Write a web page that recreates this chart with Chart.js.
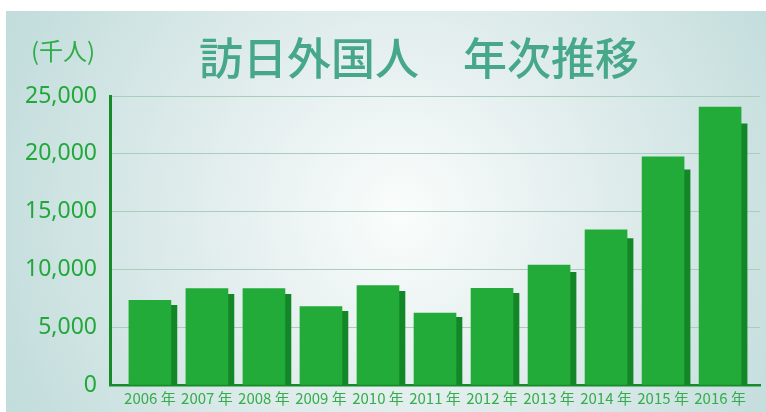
<!DOCTYPE html>
<html lang="ja">
<head>
<meta charset="utf-8">
<script src="https://cdn.jsdelivr.net/npm/chart.js@4/dist/chart.umd.min.js"></script>
<style>
  html, body { margin: 0; padding: 0; background: #ffffff; }
  canvas { display: block; }
</style>
</head>
<body>
<canvas id="c" width="766" height="412"></canvas>
<script>
// ---- data (thousands of visitors) ----
const categories = ['2006 年','2007 年','2008 年','2009 年','2010 年','2011 年','2012 年','2013 年','2014 年','2015 年','2016 年'];
const visitors   = [7334, 8347, 8351, 6790, 8611, 6219, 8358, 10364, 13413, 19737, 24039];
const shadowVals = [6900, 7840, 7840, 6380, 8100, 5860, 7930, 9740, 12670, 18620, 22590];
const yTicks     = [0, 5000, 10000, 15000, 20000, 25000];
const titleText  = '訪日外国人　年次推移';
const unitText   = '(千人)';

const mainData   = visitors.map((v, i) => ({ x: i, y: v }));
const shadowData = shadowVals.map((v, i) => ({ x: i, y: v }));

const bgPlugin = {
  id: 'panel',
  beforeDraw(chart) {
    const ctx = chart.ctx;
    ctx.save();
    ctx.fillStyle = '#ffffff';
    ctx.fillRect(0, 0, chart.width, chart.height);
    const g = ctx.createRadialGradient(400, 215, 0, 400, 215, 430);
    g.addColorStop(0, '#fafdfc');
    g.addColorStop(0.45, '#e2eded');
    g.addColorStop(1, '#c2dddc');
    ctx.fillStyle = g;
    ctx.fillRect(6, 11, chart.width - 6, chart.height - 11);
    ctx.restore();
  },
  beforeDatasetsDraw(chart) {
    const m0 = chart.getDatasetMeta(0);
    const m1 = chart.getDatasetMeta(1);
    m1.data.forEach((el, i) => { el.x = m0.data[i].x + 6; });
  },
  afterDraw(chart) {
    const ctx = chart.ctx;
    ctx.save();
    ctx.fillStyle = '#46a888';
    ctx.font = '500 44px "Noto Sans CJK JP"';
    ctx.textAlign = 'center';
    ctx.textBaseline = 'middle';
    ctx.fillText(titleText, 419, 58);
    ctx.fillStyle = '#2fae48';
    ctx.font = '24px "Noto Sans CJK JP"';
    ctx.fillText(unitText, 63, 51);
    ctx.restore();
  }
};

new Chart(document.getElementById('c'), {
  type: 'bar',
  data: {
    datasets: [
      { data: mainData, backgroundColor: '#22ab38', barThickness: 42, grouped: false, order: 0, borderWidth: 0 },
      { data: shadowData, backgroundColor: '#138628', barThickness: 42, grouped: false, order: 1, borderWidth: 0 }
    ]
  },
  options: {
    responsive: false,
    animation: false,
    devicePixelRatio: 1,
    layout: { padding: { top: 96, right: 6, left: 0, bottom: 0 } },
    plugins: { legend: { display: false }, tooltip: { enabled: false }, title: { display: false } },
    scales: {
      x: {
        type: 'linear',
        offset: false,
        min: -0.70,
        max: 10.70,
        afterFit(scale) { scale.height = 27; },
        grid: { display: false, offset: false },
        border: { display: true, color: '#178a2a', width: 2.5 },
        ticks: {
          stepSize: 1,
          includeBounds: false,
          autoSkip: false,
          maxRotation: 0,
          padding: -4,
          color: '#35ad4c',
          font: { family: '"Noto Sans CJK JP"', size: 15 },
          callback(v) { return Number.isInteger(v) && v >= 0 && v < categories.length ? categories[v] : ''; }
        }
      },
      y: {
        min: 0,
        max: 25000,
        afterFit(scale) { scale.width = 110; },
        afterBuildTicks(scale) { scale.ticks = yTicks.map(v => ({ value: v })); },
        grid: { color: '#a9cfbc', lineWidth: 1, drawTicks: false },
        border: { display: true, color: '#178a2a', width: 3 },
        ticks: {
          padding: 13,
          color: '#22a83a',
          font: { family: '"Noto Sans"', size: 23 },
          callback(v) { return v.toLocaleString('en-US'); }
        }
      }
    }
  },
  plugins: [bgPlugin]
});
</script>
</body>
</html>
